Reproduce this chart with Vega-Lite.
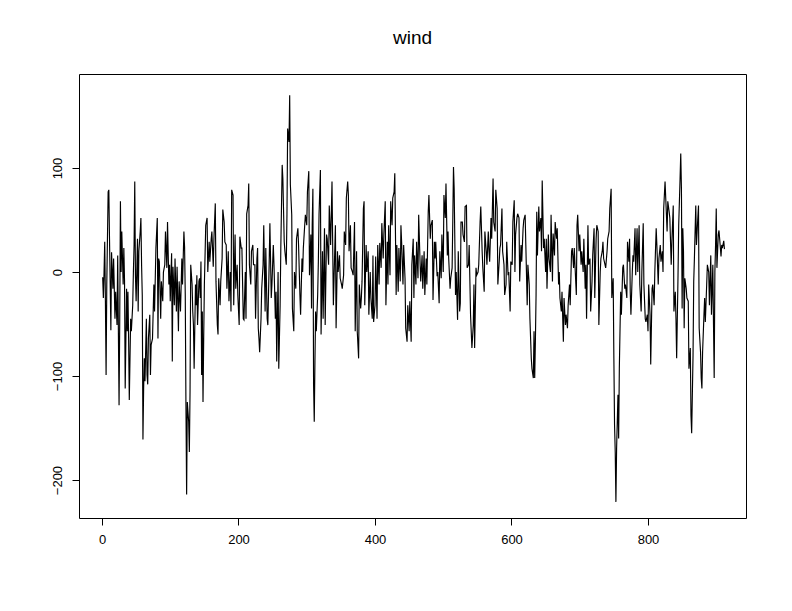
{
"$schema": "https://vega.github.io/schema/vega-lite/v6.json",
"width": 667, "height": 444,
"autosize": {"type": "none"},
"padding": {"left": 79, "top": 74, "right": 46, "bottom": 93},
"background": "white",
"title": {"text": "wind", "fontSize": 19, "font": "Liberation Sans", "fontWeight": "normal", "color": "black", "anchor": "middle", "offset": 26},
"config": {"view": {"stroke": "black", "strokeWidth": 1},
 "axis": {"domain": false, "grid": false, "ticks": true, "tickColor": "black", "tickSize": 7, "labelColor": "black", "labelFont": "Liberation Sans", "labelFontSize": 13}},
"data": {"values": [
{"t":1,"v":-5},{"t":2,"v":-25},{"t":3,"v":0},{"t":4,"v":29},{"t":5,"v":-28},{"t":6,"v":-99},{"t":7,"v":-12},{"t":9,"v":77},{"t":10,"v":79},{"t":11,"v":32},{"t":12,"v":-12},{"t":13,"v":-56},{"t":14,"v":19},{"t":16,"v":-16},{"t":17,"v":13},{"t":19,"v":-45},{"t":20,"v":-19},{"t":22,"v":-51},{"t":23,"v":16},{"t":25,"v":-128},{"t":26,"v":-45},{"t":27,"v":68},{"t":28,"v":0},{"t":29,"v":39},{"t":31,"v":-12},{"t":32,"v":23},{"t":33,"v":-8},{"t":34,"v":-112},{"t":36,"v":-16},{"t":37,"v":-57},{"t":38,"v":-19},{"t":39,"v":-64},{"t":40,"v":-123},{"t":42,"v":-45},{"t":43,"v":-57},{"t":45,"v":-32},{"t":46,"v":0},{"t":47,"v":26},{"t":48,"v":87},{"t":49,"v":-3},{"t":50,"v":-28},{"t":52,"v":32},{"t":53,"v":-38},{"t":54,"v":20},{"t":56,"v":39},{"t":57,"v":52},{"t":58,"v":7},{"t":59,"v":-22},{"t":60,"v":-161},{"t":61,"v":-112},{"t":62,"v":-83},{"t":63,"v":-105},{"t":65,"v":-45},{"t":66,"v":-99},{"t":67,"v":-108},{"t":68,"v":-64},{"t":70,"v":-41},{"t":71,"v":-99},{"t":72,"v":-70},{"t":74,"v":-64},
{"t":76,"v":-12},{"t":77,"v":-38},{"t":79,"v":23},{"t":81,"v":52},{"t":82,"v":-64},{"t":83,"v":13},{"t":84,"v":10},{"t":86,"v":-45},{"t":87,"v":-9},{"t":89,"v":-28},{"t":90,"v":0},{"t":92,"v":7},{"t":93,"v":39},{"t":95,"v":4},{"t":96,"v":48},{"t":98,"v":-12},{"t":99,"v":7},{"t":100,"v":-28},{"t":102,"v":18},{"t":103,"v":-86},{"t":104,"v":5},{"t":106,"v":-32},{"t":107,"v":13},{"t":109,"v":-38},{"t":110,"v":5},{"t":112,"v":-57},{"t":113,"v":-9},{"t":115,"v":-38},{"t":117,"v":13},{"t":118,"v":-12},{"t":120,"v":39},{"t":121,"v":24},{"t":122,"v":-22},{"t":123,"v":-128},{"t":124,"v":-214},{"t":125,"v":-125},{"t":127,"v":-144},{"t":128,"v":-173},{"t":129,"v":-115},{"t":130,"v":7},{"t":132,"v":-12},{"t":133,"v":-38},{"t":134,"v":-51},{"t":135,"v":-93},{"t":137,"v":-12},{"t":138,"v":-32},{"t":139,"v":-3},{"t":140,"v":-51},{"t":142,"v":-9},{"t":143,"v":-6},{"t":144,"v":-25},{"t":145,"v":10},{"t":146,"v":-99},{"t":147,"v":-38},{"t":148,"v":-125},{"t":149,"v":-64},{"t":150,"v":-12},{"t":151,"v":16},
{"t":152,"v":45},{"t":154,"v":52},{"t":155,"v":0},{"t":157,"v":29},{"t":158,"v":10},{"t":160,"v":32},{"t":161,"v":39},{"t":163,"v":5},{"t":164,"v":32},{"t":166,"v":66},{"t":167,"v":-9},{"t":169,"v":-51},{"t":170,"v":-60},{"t":171,"v":-6},{"t":173,"v":-32},{"t":174,"v":-9},{"t":176,"v":13},{"t":177,"v":60},{"t":179,"v":48},{"t":180,"v":29},{"t":182,"v":26},{"t":183,"v":-16},{"t":185,"v":20},{"t":186,"v":-28},{"t":188,"v":0},{"t":189,"v":-38},{"t":190,"v":79},{"t":192,"v":74},{"t":193,"v":-32},{"t":195,"v":36},{"t":196,"v":-16},{"t":198,"v":7},{"t":199,"v":-22},{"t":201,"v":-51},{"t":202,"v":34},{"t":204,"v":23},{"t":205,"v":23},{"t":207,"v":-45},{"t":208,"v":-46},{"t":210,"v":0},{"t":211,"v":-45},{"t":212,"v":56},{"t":214,"v":64},{"t":215,"v":85},{"t":216,"v":7},{"t":218,"v":-12},{"t":219,"v":20},{"t":221,"v":26},{"t":222,"v":7},{"t":224,"v":7},{"t":225,"v":-45},{"t":227,"v":13},{"t":228,"v":23},
{"t":229,"v":-54},{"t":230,"v":-64},{"t":231,"v":-77},{"t":233,"v":-45},{"t":234,"v":-16},{"t":236,"v":7},{"t":237,"v":45},{"t":239,"v":-38},{"t":240,"v":23},{"t":242,"v":-45},{"t":243,"v":-51},{"t":245,"v":10},{"t":246,"v":47},{"t":248,"v":-25},{"t":249,"v":-12},{"t":251,"v":26},{"t":252,"v":7},{"t":254,"v":-45},{"t":255,"v":-19},{"t":256,"v":-86},{"t":258,"v":0},{"t":259,"v":-93},{"t":261,"v":-32},{"t":262,"v":23},{"t":264,"v":103},{"t":265,"v":90},{"t":267,"v":29},{"t":268,"v":20},{"t":270,"v":7},{"t":271,"v":55},{"t":272,"v":138},{"t":274,"v":125},{"t":275,"v":170},{"t":276,"v":84},{"t":278,"v":55},{"t":279,"v":-35},{"t":281,"v":-57},{"t":282,"v":0},{"t":284,"v":-16},{"t":285,"v":32},{"t":287,"v":42},{"t":288,"v":26},{"t":290,"v":-22},{"t":291,"v":-41},{"t":293,"v":13},{"t":294,"v":0},{"t":295,"v":23},{"t":297,"v":45},{"t":298,"v":55},{"t":300,"v":45},{"t":301,"v":77},{"t":303,"v":97},{"t":304,"v":-3},{"t":306,"v":36},{"t":307,"v":-35},
{"t":308,"v":45},{"t":309,"v":80},{"t":310,"v":-108},{"t":311,"v":-144},{"t":312,"v":-86},{"t":313,"v":-38},{"t":314,"v":-57},{"t":316,"v":-22},{"t":317,"v":10},{"t":318,"v":55},{"t":320,"v":98},{"t":321,"v":-60},{"t":323,"v":20},{"t":324,"v":-45},{"t":326,"v":42},{"t":327,"v":-51},{"t":329,"v":36},{"t":330,"v":32},{"t":332,"v":7},{"t":333,"v":64},{"t":335,"v":26},{"t":336,"v":56},{"t":337,"v":87},{"t":339,"v":-32},{"t":340,"v":-6},{"t":342,"v":45},{"t":343,"v":-54},{"t":345,"v":20},{"t":346,"v":0},{"t":348,"v":16},{"t":349,"v":-6},{"t":351,"v":-12},{"t":352,"v":-16},{"t":354,"v":-3},{"t":355,"v":39},{"t":357,"v":26},{"t":358,"v":71},{"t":360,"v":87},{"t":361,"v":74},{"t":362,"v":20},{"t":364,"v":45},{"t":365,"v":4},{"t":367,"v":0},{"t":368,"v":-3},{"t":370,"v":48},{"t":371,"v":-57},{"t":373,"v":20},{"t":374,"v":-57},{"t":376,"v":-83},{"t":377,"v":-12},{"t":379,"v":-35},{"t":380,"v":-25},{"t":381,"v":-9},{"t":383,"v":61},{"t":384,"v":68},
{"t":385,"v":-32},{"t":387,"v":26},{"t":388,"v":0},{"t":390,"v":20},{"t":391,"v":-41},{"t":393,"v":0},{"t":394,"v":-25},{"t":396,"v":-45},{"t":397,"v":16},{"t":398,"v":-48},{"t":400,"v":-32},{"t":401,"v":15},{"t":403,"v":-45},{"t":404,"v":26},{"t":406,"v":-12},{"t":407,"v":28},{"t":409,"v":4},{"t":410,"v":47},{"t":412,"v":13},{"t":413,"v":36},{"t":415,"v":68},{"t":416,"v":-32},{"t":418,"v":29},{"t":419,"v":-12},{"t":420,"v":45},{"t":422,"v":-3},{"t":423,"v":68},{"t":425,"v":45},{"t":426,"v":71},{"t":428,"v":77},{"t":429,"v":95},{"t":431,"v":-22},{"t":432,"v":26},{"t":434,"v":-19},{"t":435,"v":23},{"t":437,"v":-9},{"t":438,"v":45},{"t":439,"v":29},{"t":441,"v":-12},{"t":442,"v":26},{"t":444,"v":-6},{"t":445,"v":-54},{"t":447,"v":-67},{"t":448,"v":-32},{"t":450,"v":-57},{"t":451,"v":-28},{"t":453,"v":-67},{"t":454,"v":7},{"t":456,"v":32},{"t":457,"v":-25},{"t":458,"v":16},{"t":460,"v":-12},{"t":461,"v":29},
{"t":463,"v":-6},{"t":464,"v":55},{"t":466,"v":10},{"t":467,"v":-9},{"t":469,"v":16},{"t":470,"v":-16},{"t":472,"v":20},{"t":473,"v":-22},{"t":475,"v":13},{"t":476,"v":-12},{"t":478,"v":58},{"t":479,"v":74},{"t":481,"v":32},{"t":482,"v":45},{"t":484,"v":50},{"t":485,"v":-27},{"t":487,"v":29},{"t":488,"v":13},{"t":489,"v":29},{"t":491,"v":-4},{"t":492,"v":0},{"t":494,"v":-30},{"t":495,"v":20},{"t":497,"v":-6},{"t":498,"v":36},{"t":500,"v":0},{"t":501,"v":74},{"t":503,"v":52},{"t":504,"v":85},{"t":506,"v":16},{"t":507,"v":39},{"t":508,"v":13},{"t":510,"v":-16},{"t":511,"v":-6},{"t":513,"v":4},{"t":514,"v":50},{"t":515,"v":101},{"t":516,"v":80},{"t":518,"v":-22},{"t":519,"v":0},{"t":521,"v":-46},{"t":522,"v":20},{"t":524,"v":-38},{"t":525,"v":-30},{"t":526,"v":48},{"t":528,"v":48},{"t":529,"v":36},{"t":531,"v":29},{"t":532,"v":63},{"t":534,"v":64},{"t":535,"v":4},{"t":537,"v":7},{"t":538,"v":26},{"t":540,"v":-41},
{"t":542,"v":-73},{"t":544,"v":-51},{"t":545,"v":-12},{"t":546,"v":-73},{"t":548,"v":4},{"t":549,"v":-3},{"t":551,"v":0},{"t":552,"v":7},{"t":554,"v":48},{"t":555,"v":63},{"t":557,"v":20},{"t":558,"v":4},{"t":560,"v":-19},{"t":561,"v":39},{"t":563,"v":20},{"t":564,"v":7},{"t":566,"v":39},{"t":567,"v":20},{"t":568,"v":10},{"t":570,"v":52},{"t":571,"v":32},{"t":573,"v":90},{"t":574,"v":48},{"t":576,"v":39},{"t":577,"v":79},{"t":579,"v":61},{"t":580,"v":-12},{"t":582,"v":10},{"t":583,"v":23},{"t":584,"v":26},{"t":586,"v":61},{"t":587,"v":20},{"t":589,"v":7},{"t":590,"v":-22},{"t":592,"v":-12},{"t":593,"v":29},{"t":595,"v":-3},{"t":596,"v":0},{"t":598,"v":-38},{"t":599,"v":10},{"t":601,"v":7},{"t":602,"v":48},{"t":604,"v":69},{"t":605,"v":0},{"t":606,"v":36},{"t":608,"v":52},{"t":609,"v":56},{"t":611,"v":52},{"t":612,"v":-9},{"t":614,"v":26},{"t":615,"v":10},{"t":617,"v":42},
{"t":618,"v":50},{"t":620,"v":55},{"t":621,"v":26},{"t":623,"v":-32},{"t":624,"v":7},{"t":626,"v":-12},{"t":627,"v":-45},{"t":629,"v":-83},{"t":630,"v":-93},{"t":632,"v":-102},{"t":633,"v":-57},{"t":634,"v":-102},{"t":635,"v":-67},{"t":636,"v":-22},{"t":637,"v":58},{"t":638,"v":16},{"t":640,"v":63},{"t":641,"v":39},{"t":643,"v":52},{"t":644,"v":20},{"t":645,"v":88},{"t":647,"v":23},{"t":648,"v":32},{"t":650,"v":0},{"t":651,"v":32},{"t":652,"v":-16},{"t":654,"v":36},{"t":655,"v":13},{"t":657,"v":0},{"t":658,"v":55},{"t":660,"v":-9},{"t":661,"v":37},{"t":663,"v":16},{"t":664,"v":48},{"t":666,"v":32},{"t":667,"v":42},{"t":669,"v":-12},{"t":670,"v":0},{"t":671,"v":-25},{"t":673,"v":-38},{"t":674,"v":-19},{"t":676,"v":-67},{"t":677,"v":-25},{"t":679,"v":-51},{"t":680,"v":-41},{"t":682,"v":-54},{"t":683,"v":-32},{"t":685,"v":-12},{"t":686,"v":-32},{"t":688,"v":20},{"t":689,"v":23},{"t":691,"v":4},{"t":692,"v":23},{"t":693,"v":7},{"t":695,"v":-22},
{"t":696,"v":45},{"t":697,"v":55},{"t":699,"v":20},{"t":700,"v":36},{"t":702,"v":7},{"t":703,"v":20},{"t":705,"v":0},{"t":706,"v":32},{"t":708,"v":-16},{"t":709,"v":7},{"t":710,"v":-45},{"t":712,"v":45},{"t":713,"v":7},{"t":715,"v":13},{"t":716,"v":-38},{"t":718,"v":-9},{"t":719,"v":16},{"t":721,"v":42},{"t":722,"v":-25},{"t":724,"v":32},{"t":725,"v":45},{"t":727,"v":39},{"t":728,"v":-51},{"t":730,"v":0},{"t":731,"v":13},{"t":733,"v":20},{"t":734,"v":29},{"t":735,"v":13},{"t":737,"v":7},{"t":738,"v":4},{"t":740,"v":20},{"t":741,"v":32},{"t":743,"v":39},{"t":744,"v":61},{"t":746,"v":80},{"t":747,"v":-25},{"t":749,"v":-6},{"t":750,"v":-83},{"t":751,"v":-147},{"t":752,"v":-173},{"t":753,"v":-221},{"t":754,"v":-170},{"t":756,"v":-118},{"t":757,"v":-160},{"t":758,"v":-93},{"t":760,"v":-19},{"t":761,"v":-41},{"t":763,"v":4},{"t":764,"v":7},{"t":766,"v":-16},{"t":767,"v":-12},{"t":769,"v":-25},{"t":770,"v":29},{"t":772,"v":10},{"t":773,"v":32},
{"t":774,"v":-19},{"t":775,"v":-41},{"t":777,"v":0},{"t":778,"v":16},{"t":779,"v":10},{"t":781,"v":42},{"t":782,"v":-3},{"t":784,"v":42},{"t":785,"v":0},{"t":787,"v":45},{"t":788,"v":-12},{"t":790,"v":-38},{"t":791,"v":0},{"t":793,"v":47},{"t":794,"v":-12},{"t":796,"v":-45},{"t":797,"v":-48},{"t":799,"v":-41},{"t":800,"v":-57},{"t":801,"v":-12},{"t":803,"v":-41},{"t":804,"v":-89},{"t":806,"v":-16},{"t":807,"v":-12},{"t":809,"v":-32},{"t":810,"v":0},{"t":812,"v":42},{"t":813,"v":26},{"t":815,"v":-12},{"t":816,"v":13},{"t":818,"v":26},{"t":819,"v":10},{"t":821,"v":20},{"t":822,"v":0},{"t":823,"v":61},{"t":825,"v":87},{"t":826,"v":71},{"t":828,"v":39},{"t":829,"v":68},{"t":831,"v":58},{"t":832,"v":52},{"t":834,"v":7},{"t":835,"v":29},{"t":837,"v":64},{"t":838,"v":-38},{"t":840,"v":-19},{"t":841,"v":-45},{"t":842,"v":-83},{"t":844,"v":-3},{"t":845,"v":45},{"t":847,"v":90},{"t":848,"v":114},{"t":849,"v":80},{"t":850,"v":-35},
{"t":851,"v":42},{"t":852,"v":20},{"t":853,"v":-54},{"t":854,"v":-6},{"t":856,"v":-16},{"t":857,"v":-25},{"t":859,"v":-28},{"t":860,"v":-93},{"t":862,"v":-73},{"t":863,"v":-138},{"t":864,"v":-155},{"t":866,"v":-80},{"t":867,"v":-9},{"t":868,"v":13},{"t":870,"v":64},{"t":871,"v":26},{"t":873,"v":52},{"t":874,"v":64},{"t":875,"v":-54},{"t":877,"v":-77},{"t":878,"v":-102},{"t":879,"v":-112},{"t":880,"v":-77},{"t":882,"v":-41},{"t":883,"v":-25},{"t":884,"v":-48},{"t":886,"v":-12},{"t":887,"v":7},{"t":889,"v":0},{"t":890,"v":-32},{"t":892,"v":16},{"t":893,"v":-41},{"t":895,"v":7},{"t":896,"v":-51},{"t":897,"v":-102},{"t":898,"v":0},{"t":899,"v":26},{"t":900,"v":61},{"t":901,"v":4},{"t":903,"v":36},{"t":904,"v":40},{"t":905,"v":32},{"t":907,"v":15},{"t":908,"v":26},{"t":909,"v":23},{"t":911,"v":30},{"t":912,"v":22}
]},
"mark": {"type": "line", "color": "black", "strokeWidth": 1.15},
"encoding": {
 "x": {"field": "t", "type": "quantitative", "scale": {"domain": [-33.7, 943.6], "nice": false, "zero": false},
  "axis": {"values": [0, 200, 400, 600, 800], "title": null, "labelPadding": 8, "labelFlush": false}},
 "y": {"field": "v", "type": "quantitative", "scale": {"domain": [-236.5, 190.4], "nice": false, "zero": false},
  "axis": {"values": [-200, -100, 0, 100], "title": null, "labelAngle": -90, "labelAlign": "center", "labelBaseline": "bottom", "labelPadding": 8}}
}
}
